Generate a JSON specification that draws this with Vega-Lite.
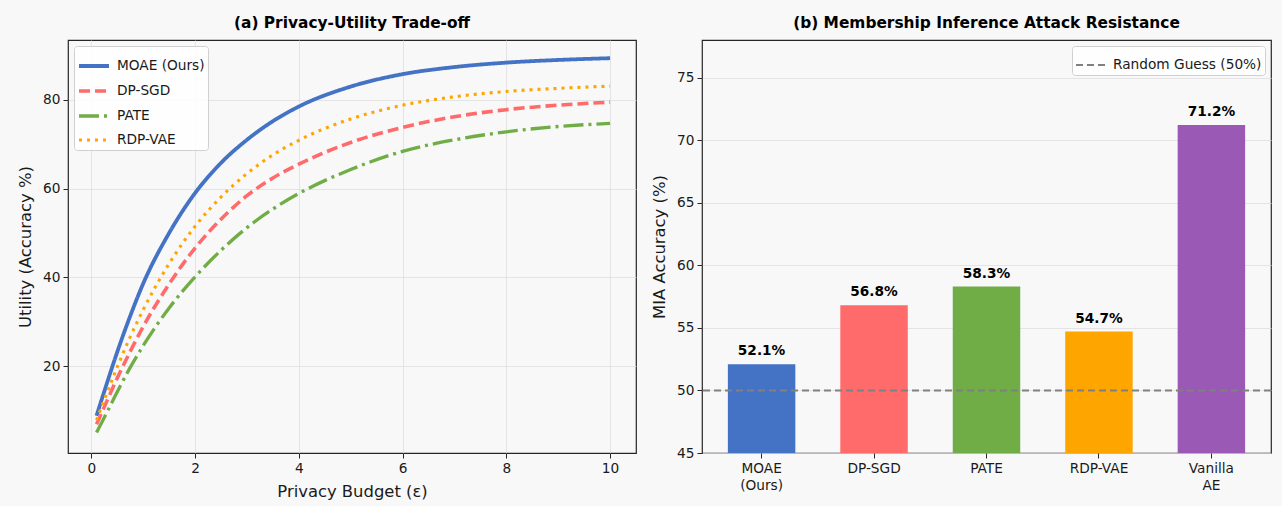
{
  "$schema": "https://vega.github.io/schema/vega-lite/v6.json",
  "background": "#f8f8f8",
  "padding": {"left": 16, "top": 15, "right": 11, "bottom": 5},
  "spacing": 13,
  "config": {
    "font": "DejaVu Sans",
    "view": {"stroke": "#262626", "strokeWidth": 1.2, "fill": "#f8f8f8"},
    "axis": {
      "labelFont": "DejaVu Sans", "labelFontSize": 13.7, "labelColor": "#1a1a1a",
      "titleFont": "DejaVu Sans", "titleFontSize": 16.4, "titleFontWeight": "normal", "titleColor": "#1a1a1a",
      "gridColor": "#dedede", "gridWidth": 0.8, "tickColor": "#262626", "tickSize": 5,
      "domain": false, "labelPadding": 3, "titlePadding": 9
    },
    "title": {"font": "DejaVu Sans", "fontSize": 15.4, "fontWeight": "bold", "color": "#000000", "offset": 9},
    "legend": {
      "labelFont": "DejaVu Sans", "labelFontSize": 13.7, "labelColor": "#1a1a1a",
      "fillColor": "rgba(255,255,255,0.85)", "strokeColor": "#d0d0d0", "cornerRadius": 3,
      "padding": 3, "symbolType": "stroke", "symbolSize": 900, "labelOffset": 6, "rowPadding": -13
    }
  },
  "resolve": {
    "scale": {"stroke": "independent", "strokeDash": "independent", "strokeWidth": "independent", "color": "independent", "fill": "independent"},
    "legend": {"stroke": "independent", "strokeDash": "independent", "strokeWidth": "independent"}
  },
  "hconcat": [
    {
      "width": 568,
      "height": 413,
      "title": "(a) Privacy-Utility Trade-off",
      "data": {"values": [
        {"method": "MOAE (Ours)", "eps": 0.1, "utility": 8.8},
        {"method": "MOAE (Ours)", "eps": 0.25, "utility": 14.3},
        {"method": "MOAE (Ours)", "eps": 0.5, "utility": 23.2},
        {"method": "MOAE (Ours)", "eps": 0.75, "utility": 31.3},
        {"method": "MOAE (Ours)", "eps": 1, "utility": 38.6},
        {"method": "MOAE (Ours)", "eps": 1.5, "utility": 50.0},
        {"method": "MOAE (Ours)", "eps": 2, "utility": 59.0},
        {"method": "MOAE (Ours)", "eps": 2.5, "utility": 65.8},
        {"method": "MOAE (Ours)", "eps": 3, "utility": 71.0},
        {"method": "MOAE (Ours)", "eps": 3.5, "utility": 75.2},
        {"method": "MOAE (Ours)", "eps": 4, "utility": 78.5},
        {"method": "MOAE (Ours)", "eps": 5, "utility": 83.0},
        {"method": "MOAE (Ours)", "eps": 6, "utility": 85.8},
        {"method": "MOAE (Ours)", "eps": 7, "utility": 87.4},
        {"method": "MOAE (Ours)", "eps": 8, "utility": 88.4},
        {"method": "MOAE (Ours)", "eps": 9, "utility": 89.0},
        {"method": "MOAE (Ours)", "eps": 10, "utility": 89.4},
        {"method": "DP-SGD", "eps": 0.1, "utility": 6.9},
        {"method": "DP-SGD", "eps": 0.25, "utility": 10.8},
        {"method": "DP-SGD", "eps": 0.5, "utility": 17.3},
        {"method": "DP-SGD", "eps": 0.75, "utility": 23.3},
        {"method": "DP-SGD", "eps": 1, "utility": 28.9},
        {"method": "DP-SGD", "eps": 1.5, "utility": 38.5},
        {"method": "DP-SGD", "eps": 2, "utility": 46.6},
        {"method": "DP-SGD", "eps": 2.5, "utility": 53.1},
        {"method": "DP-SGD", "eps": 3, "utility": 58.4},
        {"method": "DP-SGD", "eps": 3.5, "utility": 62.4},
        {"method": "DP-SGD", "eps": 4, "utility": 65.5},
        {"method": "DP-SGD", "eps": 5, "utility": 70.4},
        {"method": "DP-SGD", "eps": 6, "utility": 73.8},
        {"method": "DP-SGD", "eps": 7, "utility": 76.2},
        {"method": "DP-SGD", "eps": 8, "utility": 77.8},
        {"method": "DP-SGD", "eps": 9, "utility": 78.8},
        {"method": "DP-SGD", "eps": 10, "utility": 79.5},
        {"method": "PATE", "eps": 0.1, "utility": 5.0},
        {"method": "PATE", "eps": 0.25, "utility": 8.4},
        {"method": "PATE", "eps": 0.5, "utility": 14.2},
        {"method": "PATE", "eps": 0.75, "utility": 19.7},
        {"method": "PATE", "eps": 1, "utility": 24.6},
        {"method": "PATE", "eps": 1.5, "utility": 33.1},
        {"method": "PATE", "eps": 2, "utility": 40.1},
        {"method": "PATE", "eps": 2.5, "utility": 46.1},
        {"method": "PATE", "eps": 3, "utility": 51.2},
        {"method": "PATE", "eps": 3.5, "utility": 55.4},
        {"method": "PATE", "eps": 4, "utility": 58.9},
        {"method": "PATE", "eps": 5, "utility": 64.3},
        {"method": "PATE", "eps": 6, "utility": 68.4},
        {"method": "PATE", "eps": 7, "utility": 71.0},
        {"method": "PATE", "eps": 8, "utility": 72.8},
        {"method": "PATE", "eps": 9, "utility": 74.0},
        {"method": "PATE", "eps": 10, "utility": 74.7},
        {"method": "RDP-VAE", "eps": 0.1, "utility": 7.8},
        {"method": "RDP-VAE", "eps": 0.25, "utility": 12.4},
        {"method": "RDP-VAE", "eps": 0.5, "utility": 19.8},
        {"method": "RDP-VAE", "eps": 0.75, "utility": 26.6},
        {"method": "RDP-VAE", "eps": 1, "utility": 32.7},
        {"method": "RDP-VAE", "eps": 1.5, "utility": 43.1},
        {"method": "RDP-VAE", "eps": 2, "utility": 51.5},
        {"method": "RDP-VAE", "eps": 2.5, "utility": 58.1},
        {"method": "RDP-VAE", "eps": 3, "utility": 63.4},
        {"method": "RDP-VAE", "eps": 3.5, "utility": 67.6},
        {"method": "RDP-VAE", "eps": 4, "utility": 70.9},
        {"method": "RDP-VAE", "eps": 5, "utility": 75.7},
        {"method": "RDP-VAE", "eps": 6, "utility": 78.8},
        {"method": "RDP-VAE", "eps": 7, "utility": 80.7},
        {"method": "RDP-VAE", "eps": 8, "utility": 81.9},
        {"method": "RDP-VAE", "eps": 9, "utility": 82.6},
        {"method": "RDP-VAE", "eps": 10, "utility": 83.1}
      ]},
      "mark": {"type": "line", "interpolate": "monotone", "clip": true},
      "encoding": {
        "x": {"field": "eps", "type": "quantitative",
          "scale": {"domain": [-0.45, 10.5], "nice": false, "zero": false},
          "axis": {"values": [0, 2, 4, 6, 8, 10], "format": "d", "title": "Privacy Budget (ε)"}},
        "y": {"field": "utility", "type": "quantitative",
          "scale": {"domain": [0.4, 93.5], "nice": false, "zero": false},
          "axis": {"values": [20, 40, 60, 80], "title": "Utility (Accuracy %)"}},
        "stroke": {"field": "method", "type": "nominal",
          "scale": {"domain": ["MOAE (Ours)", "DP-SGD", "PATE", "RDP-VAE"], "range": ["#4472C4", "#FF6B6B", "#70AD47", "#FFA500"]},
          "legend": {"title": null, "orient": "top-left", "offset": 6}},
        "strokeDash": {"field": "method", "type": "nominal",
          "scale": {"domain": ["MOAE (Ours)", "DP-SGD", "PATE", "RDP-VAE"], "range": [[1, 0], [11, 5], [20, 5, 3, 5], [3, 5]]}},
        "strokeWidth": {"field": "method", "type": "nominal",
          "scale": {"domain": ["MOAE (Ours)", "DP-SGD", "PATE", "RDP-VAE"], "range": [3.8, 3.1, 3.1, 3.1]}}
      }
    },
    {
      "width": 569,
      "height": 413,
      "title": "(b) Membership Inference Attack Resistance",
      "layer": [
        {
          "data": {"values": [
            {"method": "MOAE (Ours)", "mia": 52.1},
            {"method": "DP-SGD", "mia": 56.8},
            {"method": "PATE", "mia": 58.3},
            {"method": "RDP-VAE", "mia": 54.7},
            {"method": "Vanilla AE", "mia": 71.2}
          ]},
          "layer": [
            {
              "mark": {"type": "bar", "clip": true},
              "encoding": {
                "x": {"field": "method", "type": "nominal", "sort": null,
                  "scale": {"paddingInner": 0.4, "paddingOuter": 0.23},
                  "axis": {"title": null, "labelAngle": 0, "labelLineHeight": 17,
                    "labelExpr": "datum.label == 'MOAE (Ours)' ? ['MOAE', '(Ours)'] : datum.label == 'Vanilla AE' ? ['Vanilla', 'AE'] : datum.label"}},
                "y": {"field": "mia", "type": "quantitative", "title": "MIA Accuracy (%)",
                  "scale": {"domain": [45, 78], "nice": false, "zero": false},
                  "axis": {"values": [45, 50, 55, 60, 65, 70, 75]}},
                "fill": {"field": "method", "type": "nominal",
                  "scale": {"domain": ["MOAE (Ours)", "DP-SGD", "PATE", "RDP-VAE", "Vanilla AE"], "range": ["#4472C4", "#FF6B6B", "#70AD47", "#FFA500", "#9B59B6"]},
                  "legend": null}
              }
            },
            {
              "mark": {"type": "text", "baseline": "bottom", "dy": -6, "fontWeight": "bold", "fontSize": 13.7, "color": "#000000",
                "text": {"expr": "format(datum.mia, '.1f') + '%'"}},
              "encoding": {
                "x": {"field": "method", "type": "nominal", "sort": null},
                "y": {"field": "mia", "type": "quantitative", "title": "MIA Accuracy (%)"}
              }
            }
          ]
        },
        {
          "data": {"values": [{"level": 50, "name": "Random Guess (50%)"}]},
          "mark": {"type": "rule", "strokeWidth": 2},
          "encoding": {
            "y": {"field": "level", "type": "quantitative", "title": "MIA Accuracy (%)"},
            "stroke": {"field": "name", "type": "nominal", "scale": {"range": ["#808080"]},
              "legend": {"title": null, "orient": "top-right", "offset": 6, "symbolStrokeWidth": 2}},
            "strokeDash": {"field": "name", "type": "nominal", "scale": {"range": [[7, 4]]}}
          }
        }
      ]
    }
  ]
}
